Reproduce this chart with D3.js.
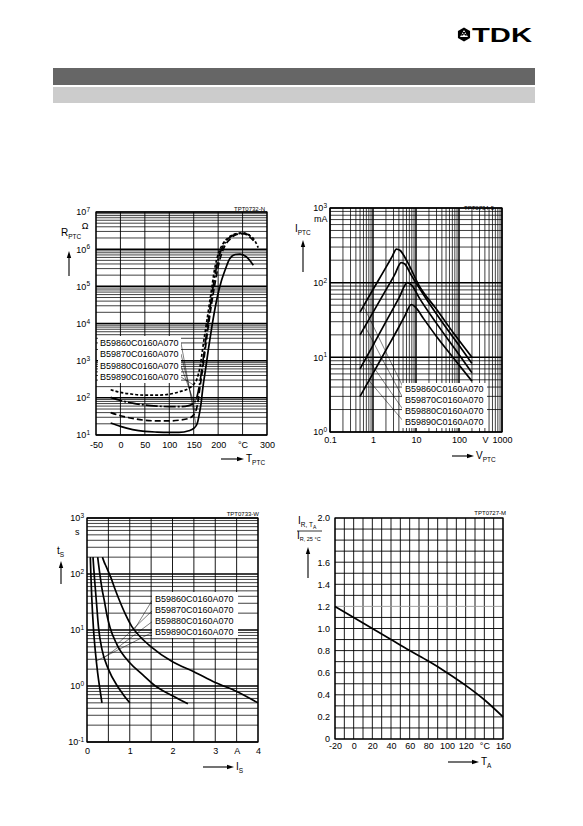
<!DOCTYPE html>
<html><head><meta charset="utf-8">
<script src="https://cdn.jsdelivr.net/npm/d3@7"></script>
<style>
body{margin:0;background:#fff;}
svg{display:block;font-family:"Liberation Sans",Arial,sans-serif;}
</style></head><body>
<svg id="c" width="583" height="826"></svg>
<script>
// ---------------- DATA ----------------
const types = ["B59860C0160A070","B59870C0160A070","B59880C0160A070","B59890C0160A070"];

// Chart 1: R_PTC (Ohm) vs T_PTC (°C)
const rT_860 = [-20,0,25,50,75,100,120,140,150,157,162,165,169,174,180,187,197,207,214,224,235,245,258,272];
const rR_860 = [21,17,14,12.5,12,11.8,11.8,13,15,20,40,70,200,560,2000,8000,4.3e4,1.45e5,2.7e5,5.6e5,7.2e5,7.4e5,6.2e5,3.7e5];
const rT_870 = [-20,0,25,50,75,100,120,140,150,157,163,170,177,185,194,203,212,225,238,252,265,276];
const rR_870 = [40,33,28,25,24,24,25,28,35,60,200,900,4500,2.5e4,1.3e5,5e5,1.1e6,1.9e6,2.5e6,2.6e6,2.1e6,1.5e6];
const rT_880 = [-20,0,25,50,75,100,120,140,150,157,163,169,176,184,192,201,210,222,236,250,265];
const rR_880 = [103,85,72,64,60,58,58,62,72,110,280,1000,5000,3e4,1.5e5,6e5,1.2e6,2e6,2.5e6,2.65e6,2.4e6];
const rT_890 = [-20,0,25,50,75,100,120,140,150,157,163,170,177,185,193,201,210,222,236,250,263,275,282];
const rR_890 = [165,140,125,118,118,125,145,180,230,330,700,3000,1.2e4,6e4,3e5,8e5,1.4e6,2.1e6,2.6e6,2.75e6,2.4e6,1.7e6,1.1e6];
const rLeader = [[155,18],[153,40],[151,75],[149,225]];
const rXTicks = [-50,0,50,100,150,200,250,300];
const rXTickText = ["-50","0","50","100","150","200","°C","300"];
const rYTicks = [10,100,1e3,1e4,1e5,1e6,1e7];

// Chart 2: I_PTC (mA) vs V_PTC (V)
const iV_860 = [0.5,1,2,2.8,3.5,4.3,6,12,30,80,200];
const iI_860 = [40.5,81,160,225,282,270,200,90,44,20,10];
const iV_870 = [0.5,1,2,3.2,4.5,5.5,7.5,15,40,100,200];
const iI_870 = [20,40,80,128,186,178,130,69,30,14.5,8.3];
const iV_880 = [0.5,1,2,4,6.3,8,12,30,80,200];
const iI_880 = [7,14.5,30,62,100,92,62,28.5,13,6.2];
const iV_890 = [0.5,1,2,4,5.5,7.8,10,15,30,80,200];
const iI_890 = [3,6.1,12.5,25.5,36,51,46,33,19,9.3,4.8];
const iLeader = [[0.6,48.6],[0.65,26],[0.7,10.2],[0.8,4.9]];
const iXTicks = [0.1,1,10,100,400,1000];
const iXTickText = ["0.1","1","10","100","V","1000"];
const iYTicks = [1,10,100,1000];

// Chart 3: t_S (s) vs I_S (A)
const sI_860 = [0.36,0.4,0.45,0.5,0.55,0.65,0.75,0.9,1.05,1.25,1.5,2.0,2.5,3.0,3.5,4.0];
const sT_860 = [200,165,135,110,90,55,35,19,11.5,7.5,5,2.7,1.8,1.15,0.8,0.5];
const sI_870 = [0.25,0.27,0.3,0.35,0.4,0.47,0.54,0.7,1.0,1.3,1.6,2.0,2.36];
const sT_870 = [200,150,100,55,35,18,11,5.5,2.6,1.6,1.0,0.67,0.48];
const sI_880 = [0.14,0.16,0.18,0.22,0.27,0.35,0.5,0.71,0.85,1.0];
const sT_880 = [200,120,75,32,11,4.5,2.0,1.0,0.7,0.5];
const sI_890 = [0.078,0.09,0.11,0.15,0.2,0.25,0.3,0.35];
const sT_890 = [200,100,40,11,3.8,1.7,0.9,0.5];
const sLeader = [[1.1,10],[0.7,5.5],[0.4,3.2],[0.22,2.8]];
const sXTicks = [0,1,2,3,3.5,4];
const sXTickText = ["0","1","2","3","A","4"];
const sYTicks = [0.1,1,10,100,1000];

// Chart 4: I_R,TA / I_R,25°C vs T_A
const aT = [-20,0,20,40,60,80,100,120,140,160];
const aRatio = [1.2,1.1,1.0,0.9,0.8,0.705,0.6,0.485,0.355,0.2];
const aXTicks = [-20,0,20,40,60,80,100,120,140,160];
const aXTickText = ["-20","0","20","40","60","80","100","120","°C","160"];
const aYTicks = [0,0.2,0.4,0.6,0.8,1.0,1.2,1.4,1.6,2.0];
const aYTickText = ["0","0.2","0.4","0.6","0.8","1.0","1.2","1.4","1.6","2.0"];

// ---------------- DRAWING ----------------
const svg = d3.select("#c");
const FONT = "'Liberation Sans', Arial, sans-serif";

// header
svg.append("rect").attr("x",53).attr("y",68).attr("width",482).attr("height",17).attr("fill","#666");
svg.append("rect").attr("x",53).attr("y",87).attr("width",482).attr("height",16).attr("fill","#ccc");
// TDK logo
const logo = svg.append("g").attr("transform","translate(464,34.5)");
logo.append("path").attr("d",d3.range(6).map((i)=>{const a=Math.PI/6+i*Math.PI/3;return (i?"L":"M")+(7*Math.cos(a)).toFixed(2)+","+(7*Math.sin(a)).toFixed(2);}).join("")+"Z").attr("fill","#000");
logo.append("path").attr("d","M0,-4.5 L4,2.5 L-4,2.5Z").attr("fill","#fff");
logo.append("path").attr("d","M0,0.2 L1.6,-2.4 L-1.6,-2.4Z M0,0.2 L2.4,1.4 L3,-1.5Z M0,0.2 L-2.4,1.4 L-3,-1.5Z").attr("fill","#000");
svg.append("text").attr("x",472).attr("y",42).attr("font-family",FONT).attr("font-weight","bold")
  .attr("font-size",21).attr("textLength",60).attr("lengthAdjust","spacingAndGlyphs").text("TDK");

function logVals(lo, hi){const v=[];for(let e=lo;e<hi;e++){for(let k=1;k<10;k++)v.push(k*Math.pow(10,e));}v.push(Math.pow(10,hi));return v;}
function isDecade(d){const l=Math.log10(d);return Math.abs(l-Math.round(l))<1e-9;}

function vGrid(g,x,y,vals,wf){
  const [yb,yt]=y.range();
  g.append("g").selectAll("line").data(vals).join("line")
   .attr("x1",d=>x(d)).attr("x2",d=>x(d)).attr("y1",yb).attr("y2",yt)
   .attr("stroke","#000").attr("stroke-width",wf);
}
function hGrid(g,x,y,vals,wf,cf){
  const [xl,xr]=x.range();
  g.append("g").selectAll("line").data(vals).join("line")
   .attr("x1",xl).attr("x2",xr).attr("y1",d=>y(d)).attr("y2",d=>y(d))
   .attr("stroke",cf||"#000").attr("stroke-width",wf);
}
function frame(g,x,y){
  const [xl,xr]=x.range(),[yb,yt]=y.range();
  g.append("rect").attr("x",xl).attr("y",yt).attr("width",xr-xl).attr("height",yb-yt)
   .attr("fill","none").attr("stroke","#000").attr("stroke-width",1.2);
}
function styleAxis(ax){ax.select(".domain").remove();ax.attr("font-family",FONT).attr("font-size",9);ax.selectAll("text").attr("fill","#000");}
function xAxis(g,x,y,ticks,texts,pad){
  const ax=g.append("g").attr("transform",`translate(0,${y.range()[0]})`)
   .call(d3.axisBottom(x).tickValues(ticks).tickSize(0).tickPadding(pad).tickFormat((d,i)=>texts[i]));
  styleAxis(ax);
}
function yAxisPow(g,x,y,ticks,pad){
  const ax=g.append("g").attr("transform",`translate(${x.range()[0]},0)`)
   .call(d3.axisLeft(y).tickValues(ticks).tickSize(0).tickPadding(pad).tickFormat(d=>String(d)));
  styleAxis(ax);
  ax.selectAll(".tick text").each(function(d){
    const e=Math.round(Math.log10(d));const t=d3.select(this);t.text(null);
    t.append("tspan").text("10");
    t.append("tspan").attr("dy","-0.5em").attr("font-size",6.5).text(e);
  });
}
function upArrow(g,x,y1,y2){
  g.append("line").attr("x1",x).attr("x2",x).attr("y1",y1).attr("y2",y2+5).attr("stroke","#000").attr("stroke-width",1.1);
  g.append("path").attr("d",`M${x},${y2} L${x-2.2},${y2+7} L${x+2.2},${y2+7}Z`).attr("fill","#000");
}
function rightArrow(g,x1,x2,y){
  g.append("line").attr("x1",x1).attr("x2",x2-5).attr("y1",y).attr("y2",y).attr("stroke","#000").attr("stroke-width",1.1);
  g.append("path").attr("d",`M${x2},${y} L${x2-7},${y-2.2} L${x2-7},${y+2.2}Z`).attr("fill","#000");
}
function subLabel(g,x,y,main,sub,size){
  const t=g.append("text").attr("x",x).attr("y",y).attr("font-family",FONT).attr("font-size",size||10);
  t.append("tspan").text(main);
  t.append("tspan").attr("dy",3).attr("font-size",6.5).text(sub);
  return t;
}
function plainText(g,x,y,txt,size,anchor){
  return g.append("text").attr("x",x).attr("y",y).attr("font-family",FONT).attr("font-size",size)
   .attr("text-anchor",anchor||"start").text(txt);
}
function curve(g,x,y,xs,ys,dash){
  const pts=xs.map((v,i)=>[v,ys[i]]);
  g.append("path").attr("d",d3.line().x(d=>x(d[0])).y(d=>y(d[1])).curve(d3.curveMonotoneX)(pts))
   .attr("fill","none").attr("stroke","#000").attr("stroke-width",1.7)
   .attr("stroke-dasharray",dash||null).attr("stroke-linejoin","round");
}
function legend(g,x,y,boxX,boxY,boxW,boxH,lx,pts,labelX,centers){
  pts.forEach((p,i)=>{
    g.append("line").attr("x1",labelX).attr("y1",centers[i]).attr("x2",x(p[0])).attr("y2",y(p[1]))
     .attr("stroke","#000").attr("stroke-width",0.5);
  });
  g.append("rect").attr("x",boxX).attr("y",boxY).attr("width",boxW).attr("height",boxH).attr("fill","#fff");
  types.forEach((t,i)=>plainText(g,lx,centers[i]+3.2,t,9));
}
const MINOR=0.75, MAJOR=1.5;

// ---------- Chart 1 ----------
{
  const g=svg.append("g");
  const x=d3.scaleLinear([-50,300],[96,267]);
  const y=d3.scaleLog([10,1e7],[435,212]);
  vGrid(g,x,y,d3.range(-50,301,50),0.9);
  hGrid(g,x,y,logVals(1,7),d=>isDecade(d)?MAJOR:MINOR);
  frame(g,x,y);
  curve(g,x,y,rT_860,rR_860,null);
  curve(g,x,y,rT_870,rR_870,"6,3");
  curve(g,x,y,rT_880,rR_880,"12,2,2,2");
  curve(g,x,y,rT_890,rR_890,"3,2");
  legend(g,x,y,98,336,83,47,100,rLeader,181,[343,354,366,377]);
  xAxis(g,x,y,rXTicks,rXTickText,7);
  yAxisPow(g,x,y,rYTicks,6);
  plainText(g,265,211,"TPT0732-N",6,"end");
  plainText(g,85,229,"Ω",9,"middle");
  subLabel(g,61,236,"R","PTC");
  upArrow(g,69,276,251);
  rightArrow(g,221,244,459);
  subLabel(g,246,462,"T","PTC");
}
// ---------- Chart 2 ----------
{
  const g=svg.append("g");
  const x=d3.scaleLog([0.1,1000],[330,502]);
  const y=d3.scaleLog([1,1000],[432,208]);
  vGrid(g,x,y,logVals(-1,3),d=>isDecade(d)?MAJOR:MINOR);
  hGrid(g,x,y,logVals(0,3),d=>isDecade(d)?MAJOR:MINOR);
  frame(g,x,y);
  curve(g,x,y,iV_860,iI_860);
  curve(g,x,y,iV_870,iI_870);
  curve(g,x,y,iV_880,iI_880);
  curve(g,x,y,iV_890,iI_890);
  legend(g,x,y,402,383,85,45,405,iLeader,404,[389,400,411,422]);
  xAxis(g,x,y,iXTicks,iXTickText,5);
  yAxisPow(g,x,y,iYTicks,3);
  plainText(g,494,210,"TPT0734-5",6,"end");
  plainText(g,314,222,"mA",9);
  subLabel(g,295,232,"I","PTC");
  upArrow(g,303,272,240);
  rightArrow(g,452,474,456);
  subLabel(g,476,459,"V","PTC");
}
// ---------- Chart 3 ----------
{
  const g=svg.append("g");
  const x=d3.scaleLinear([0,4],[87,258]);
  const y=d3.scaleLog([0.1,1000],[742,518]);
  vGrid(g,x,y,d3.range(0,4.01,0.5),0.9);
  hGrid(g,x,y,logVals(-1,3),d=>isDecade(d)?MAJOR:MINOR);
  frame(g,x,y);
  curve(g,x,y,sI_860,sT_860);
  curve(g,x,y,sI_870,sT_870);
  curve(g,x,y,sI_880,sT_880);
  curve(g,x,y,sI_890,sT_890);
  legend(g,x,y,152,592,86,46,155,sLeader,153,[599,610,621,632]);
  xAxis(g,x,y,sXTicks,sXTickText,6);
  yAxisPow(g,x,y,sYTicks,3);
  plainText(g,259,516,"TPT0733-W",6,"end");
  plainText(g,75,535,"s",9);
  subLabel(g,57,554,"t","S");
  upArrow(g,61,584,561);
  rightArrow(g,203,234,767);
  subLabel(g,236,770,"I","S");
}
// ---------- Chart 4 ----------
{
  const g=svg.append("g");
  const x=d3.scaleLinear([-20,160],[335,503]);
  const y=d3.scaleLinear([0,2],[739,518]);
  vGrid(g,x,y,d3.range(-20,161,10),0.9);
  const hv=d3.range(0,21).map(k=>k/10);
  hGrid(g,x,y,hv,0.9,d=>Math.abs(d-1.2)<1e-9?"#999":"#000");
  frame(g,x,y);
  g.append("path").attr("d",d3.line().x((d,i)=>x(aT[i])).y(d=>y(d)).curve(d3.curveCatmullRom)(aRatio))
   .attr("fill","none").attr("stroke","#000").attr("stroke-width",1.7);
  xAxis(g,x,y,aXTicks,aXTickText,4);
  const ax=g.append("g").attr("transform",`translate(335,0)`)
   .call(d3.axisLeft(y).tickValues(aYTicks).tickSize(0).tickPadding(5).tickFormat((d,i)=>aYTickText[i]));
  styleAxis(ax);
  plainText(g,506,515,"TPT0727-M",6,"end");
  const t1=g.append("text").attr("x",298).attr("y",524).attr("font-family",FONT).attr("font-size",10);
  t1.append("tspan").text("I");
  t1.append("tspan").attr("dy",3).attr("font-size",6.5).text("R, T");
  t1.append("tspan").attr("dy",2).attr("font-size",5).text("A");
  g.append("line").attr("x1",297).attr("x2",322).attr("y1",531).attr("y2",531).attr("stroke","#000").attr("stroke-width",0.8);
  const t2=g.append("text").attr("x",297).attr("y",539).attr("font-family",FONT).attr("font-size",10);
  t2.append("tspan").text("I");
  t2.append("tspan").attr("dy",2).attr("font-size",5.5).text("R, 25 °C");
  upArrow(g,308,578,547);
  rightArrow(g,448,479,762);
  subLabel(g,481,765,"T","A");
}
</script>
</body></html>
